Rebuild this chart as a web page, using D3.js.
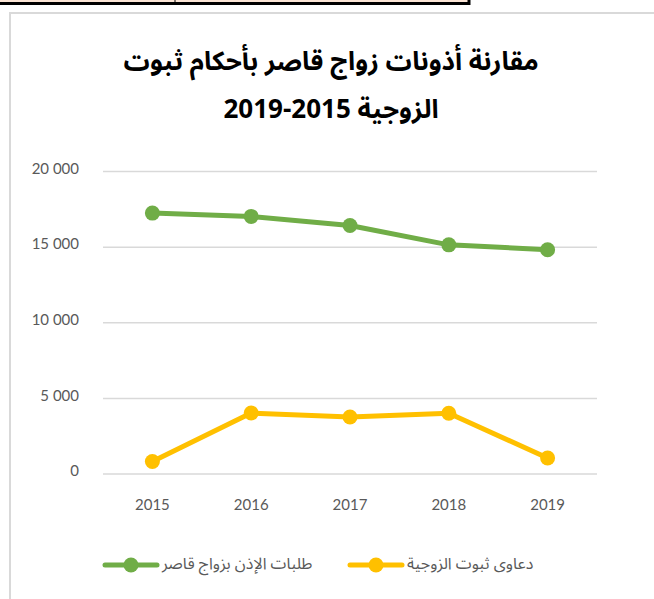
<!DOCTYPE html>
<html>
<head>
<meta charset="utf-8">
<script src="https://cdn.jsdelivr.net/npm/d3@7"></script>
<style>
  body { margin: 0; background: #fff; }
  svg { display: block; }
</style>
</head>
<body>
<div id="chart"></div>
<script>
var W = 654, H = 599;

var years = ["2015", "2016", "2017", "2018", "2019"];
var minorMarriage = [17250, 17030, 16430, 15150, 14830];
var marriageProof = [830, 4030, 3770, 4020, 1060];
var yTicks = [0, 5000, 10000, 15000, 20000];
var seriesNames = ["طلبات الإذن بزواج قاصر", "دعاوى ثبوت الزوجية"];
var seriesColors = ["#70ad47", "#ffc000"];
var titleLines = ["مقارنة أذونات زواج قاصر بأحكام ثبوت", "الزوجية \u20662019-2015\u2069"];

var svg = d3.select("#chart").append("svg")
    .attr("width", W)
    .attr("height", H);

// strip of a table cut off at the top
svg.append("rect").attr("x", 0).attr("y", 0).attr("width", 469).attr("height", 3)
    .attr("fill", "#fbe4d5");
svg.append("line").attr("x1", 0).attr("x2", 470).attr("y1", 3.5).attr("y2", 3.5)
    .attr("stroke", "#000").attr("stroke-width", 3);
svg.append("line").attr("x1", 469).attr("x2", 469).attr("y1", 0).attr("y2", 5)
    .attr("stroke", "#000").attr("stroke-width", 3);
svg.append("line").attr("x1", 175).attr("x2", 175).attr("y1", 0).attr("y2", 3)
    .attr("stroke", "#000").attr("stroke-width", 1);

// chart frame
svg.append("rect")
    .attr("x", 10).attr("y", 13)
    .attr("width", W + 20).attr("height", H + 20)
    .attr("fill", "#fff")
    .attr("stroke", "#d9d9d9")
    .attr("stroke-width", 2);

// title, two lines in one text element
var title = svg.append("text")
    .attr("text-anchor", "middle")
    .attr("direction", "rtl")
    .style("font-family", "'Noto Sans Arabic', 'DejaVu Sans', sans-serif")
    .style("font-weight", "bold")
    .style("font-size", "26px")
    .style("fill", "#000");

title.selectAll("tspan")
    .data(titleLines)
    .enter().append("tspan")
    .attr("x", 331)
    .attr("y", function(d, i) { return 70 + i * 48; })
    .text(function(d) { return d; });

var x = d3.scalePoint()
    .domain(years)
    .range([103, 597])
    .padding(0.5);

var y = d3.scaleLinear()
    .domain([0, 20000])
    .range([474, 171.5]);

var fmt = d3.formatLocale({ decimal: ".", thousands: "\u00a0", grouping: [3], currency: ["", ""] }).format(",d");

// grid
svg.append("g").selectAll("line")
    .data(yTicks)
    .enter().append("line")
    .attr("x1", 103).attr("x2", 597)
    .attr("y1", function(d) { return y(d); })
    .attr("y2", function(d) { return y(d); })
    .attr("stroke", "#d9d9d9")
    .attr("stroke-width", 1.5);

// y labels
svg.append("g").selectAll("text")
    .data(yTicks)
    .enter().append("text")
    .attr("x", 79)
    .attr("y", function(d) { return y(d) - 3; })
    .attr("dy", "0.35em")
    .attr("text-anchor", "end")
    .style("font-family", "Lato, 'Open Sans', sans-serif")
    .style("font-size", "15px")
    .style("fill", "#595959")
    .text(function(d) { return fmt(d); });

// x labels
svg.append("g").selectAll("text")
    .data(years)
    .enter().append("text")
    .attr("x", function(d) { return x(d); })
    .attr("y", 505)
    .attr("dy", "0.35em")
    .attr("text-anchor", "middle")
    .style("font-family", "Lato, 'Open Sans', sans-serif")
    .style("font-size", "15px")
    .style("fill", "#595959")
    .text(function(d) { return d; });

var line = d3.line()
    .x(function(d, i) { return x(years[i]); })
    .y(function(d) { return y(d); });

var series = [minorMarriage, marriageProof];

series.forEach(function(values, k) {
    svg.append("path")
        .datum(values)
        .attr("d", line)
        .attr("fill", "none")
        .attr("stroke", seriesColors[k])
        .attr("stroke-width", 5)
        .attr("stroke-linejoin", "round");

    svg.append("g").selectAll("circle")
        .data(values)
        .enter().append("circle")
        .attr("cx", function(d, i) { return x(years[i]); })
        .attr("cy", function(d) { return y(d); })
        .attr("r", 7.5)
        .attr("fill", seriesColors[k]);
});

// legend
var legendX = [105, 350];
var legend = svg.append("g").selectAll("g")
    .data(seriesNames)
    .enter().append("g")
    .attr("transform", function(d, i) { return "translate(" + legendX[i] + ",565)"; });

legend.append("line")
    .attr("x1", 0).attr("x2", 52)
    .attr("y1", 0).attr("y2", 0)
    .attr("stroke", function(d, i) { return seriesColors[i]; })
    .attr("stroke-width", 5)
    .attr("stroke-linecap", "round");

legend.append("circle")
    .attr("cx", 26).attr("cy", 0).attr("r", 7.5)
    .attr("fill", function(d, i) { return seriesColors[i]; });

legend.append("text")
    .attr("x", 57)
    .attr("y", -2)
    .attr("dy", "0.35em")
    .attr("text-anchor", "start")
    .attr("direction", "ltr")
    .style("font-family", "'Noto Sans Arabic', 'DejaVu Sans', sans-serif")
    .style("font-size", "16px")
    .style("fill", "#595959")
    .text(function(d) { return d; });
</script>
</body>
</html>
